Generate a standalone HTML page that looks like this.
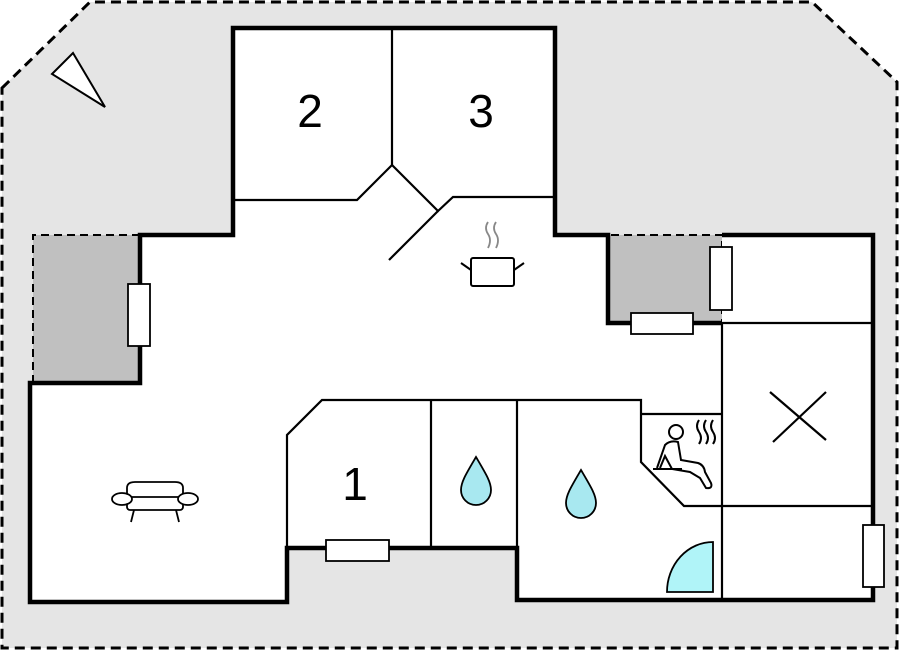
<!DOCTYPE html>
<html><head><style>body{margin:0;background:#fff}svg{display:block}</style></head><body>
<svg width="899" height="652" viewBox="0 0 899 652" xmlns="http://www.w3.org/2000/svg">
<polygon points="2,88 90,2 812,2 897,82 897,648 2,648" fill="#e5e5e5" stroke="#000" stroke-width="3" stroke-dasharray="10,6"/>
<polygon points="33,383 33,235 140,235 140,383" fill="#c0c0c0" stroke="#000" stroke-width="2" stroke-dasharray="8,5"/>
<polygon points="608,323 608,235 722,235 722,323" fill="#c0c0c0" stroke="#000" stroke-width="2" stroke-dasharray="8,5"/>
<polygon points="233,28 555,28 555,235 608,235 608,323 722,323 722,235 873,235 873,600 517,600 517,548 287,548 287,602 30,602 30,383 140,383 140,235 233,235" fill="#fff"/>
<polyline points="722,235 873,235 873,600 517,600 517,548 287,548 287,602 30,602 30,383 140,383 140,235 233,235 233,28 555,28 555,235 608,235 608,323 722,323" fill="none" stroke="#000" stroke-width="4.5"/>
<g fill="none" stroke="#000" stroke-width="2.2">
<polyline points="235,200 357,200 392,165 438,211 453,197 555,197"/>
<line x1="392" y1="28" x2="392" y2="165"/>
<line x1="438" y1="211" x2="389" y2="260"/>
<polyline points="287,548 287,435 322,400 641,400 641,462 684,506 873,506"/>
<line x1="641" y1="414" x2="722" y2="414"/>
<line x1="722" y1="323" x2="722" y2="600"/>
<line x1="722" y1="323" x2="873" y2="323"/>
<line x1="431" y1="400" x2="431" y2="548"/>
<line x1="517" y1="400" x2="517" y2="548"/>
<line x1="770" y1="392" x2="826" y2="440"/><line x1="826" y1="392" x2="773" y2="442"/>
</g>
<polygon points="52,74 73,53 105,107" fill="#fff" stroke="#000" stroke-width="2"/>
<g fill="#fff" stroke="#000" stroke-width="1.8">
<rect x="128" y="284" width="22" height="62"/>
<rect x="710" y="247" width="22" height="63"/>
<rect x="631" y="313" width="62" height="21"/>
<rect x="326" y="540" width="63" height="21"/>
<rect x="863" y="525" width="21" height="62"/>
</g>
<g font-family="Liberation Sans, sans-serif" font-size="46" text-anchor="middle">
<text x="310" y="127">2</text><text x="481" y="127">3</text><text x="355" y="500">1</text>
</g>
<g fill="none" stroke="#000" stroke-width="2">
<rect x="471" y="258" width="43" height="28" rx="2" fill="#fff"/>
<line x1="461" y1="263" x2="471" y2="270"/><line x1="524" y1="263" x2="514" y2="270"/>
</g>
<g fill="none" stroke="#888" stroke-width="1.8">
<path d="M488,222 q-4,6 0,12 q4,6 0,14"/><path d="M496,222 q-4,6 0,12 q4,6 0,14"/>
</g>
<g fill="#a8e8f0" stroke="#000" stroke-width="1.8">
<path d="M476,457 C486,474 491,482 491,490 A15,15 0 0 1 461,490 C461,482 466,474 476,457Z"/>
<path d="M581,470 C591,487 596,495 596,503 A15,15 0 0 1 566,503 C566,495 571,487 581,470Z"/>
<path d="M713,592 L667,592 A46,50 0 0 1 713,542 Z" fill="#b0f4f8"/>
</g>
<g fill="#fff" stroke="#000" stroke-width="1.8">
<path d="M127,505 L127,488 Q127,482 135,482 L175,482 Q183,482 183,488 L183,505"/>
<rect x="127" y="497" width="56" height="13" rx="3"/>
<ellipse cx="122" cy="499" rx="10" ry="6"/><ellipse cx="188" cy="499" rx="10" ry="6"/>
<line x1="134" y1="510" x2="131" y2="522"/><line x1="176" y1="510" x2="179" y2="522"/>
</g>
<g fill="none" stroke="#000" stroke-width="2">
<circle cx="676" cy="432" r="7"/>
<path d="M657,468 L665,445 Q670,440 678,442 L681,460 L698,463 Q704,465 705,472 L711,483 Q713,489 706,488 L700,478 L690,472 L672,469 L665,456 L660,468"/>
<line x1="653" y1="469" x2="682" y2="469"/>
<path d="M699,420 q-4,6 0,12 q4,6 0,12"/><path d="M706,420 q-4,6 0,12 q4,6 0,12"/><path d="M713,420 q-4,6 0,12 q4,6 0,12"/>
</g>
</svg>
</body></html>
